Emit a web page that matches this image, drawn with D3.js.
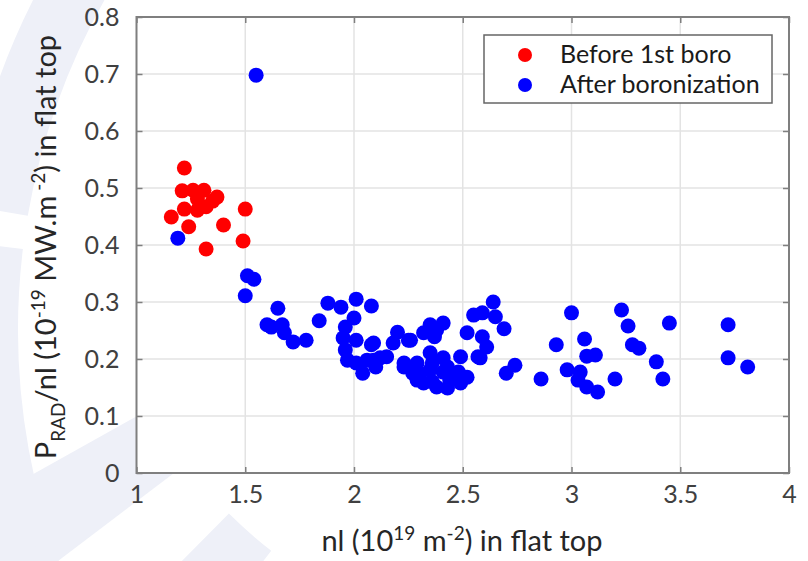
<!DOCTYPE html>
<html>
<head>
<meta charset="utf-8">
<script src="https://cdn.jsdelivr.net/npm/d3@7"></script>
<style>
  body { margin: 0; background: #fff; }
  svg { display: block; font-family: Lato, "Open Sans", sans-serif; }
</style>
</head>
<body>
<svg id="svg" width="808" height="561"></svg>
<script>
    // data: nl (1e19 m^-2) vs Prad/nl
    var beforeX = [1.16, 1.22, 1.21, 1.26, 1.31, 1.28, 1.35, 1.32, 1.37, 1.22, 1.24, 1.32, 1.40, 1.49, 1.50, 1.28];
    var beforeY = [0.449, 0.535, 0.495, 0.496, 0.496, 0.481, 0.477, 0.467, 0.484, 0.463, 0.432, 0.393, 0.435, 0.407, 0.463, 0.461];

    var afterX = [1.55, 1.19, 1.51, 1.54, 1.50, 1.65, 1.60, 1.62, 1.67, 1.68, 1.72, 1.78, 1.84, 1.88, 1.94, 2.01,
        2.08, 1.96, 2.00, 1.95, 1.96, 1.97, 2.01, 2.04, 2.09, 2.06, 2.10, 2.01, 2.08, 2.09, 2.12, 2.20,
        2.25, 2.18, 2.15, 2.23, 2.27, 2.29, 2.26, 2.23, 2.30, 2.32, 2.38, 2.44, 2.49, 2.51, 2.43, 2.36,
        2.35, 2.41, 2.32, 2.37, 2.55, 2.59, 2.64, 2.65, 2.52, 2.59, 2.61, 2.57, 2.49, 2.41, 2.35, 2.29,
        2.30, 2.36, 2.43, 2.52, 2.48, 2.41, 2.35, 2.38, 2.58, 2.69, 2.70, 2.74, 2.86, 2.93, 3.00, 3.06,
        3.07, 3.11, 2.98, 3.04, 3.03, 3.07, 3.12, 3.20, 3.23, 3.26, 3.28, 3.31, 3.39, 3.42, 3.45, 3.72,
        3.72, 3.81];
    var afterY = [0.698, 0.412, 0.346, 0.340, 0.311, 0.289, 0.260, 0.256, 0.260, 0.246, 0.230, 0.233, 0.267, 0.298, 0.291, 0.305,
        0.293, 0.256, 0.272, 0.237, 0.216, 0.198, 0.233, 0.175, 0.228, 0.198, 0.186, 0.193, 0.225, 0.198, 0.202, 0.247,
        0.233, 0.228, 0.204, 0.193, 0.175, 0.163, 0.233, 0.186, 0.175, 0.158, 0.151, 0.163, 0.158, 0.168, 0.186, 0.193,
        0.260, 0.263, 0.246, 0.239, 0.277, 0.281, 0.300, 0.274, 0.246, 0.239, 0.221, 0.204, 0.204, 0.202, 0.211, 0.193,
        0.168, 0.160, 0.149, 0.168, 0.177, 0.177, 0.181, 0.251, 0.202, 0.253, 0.175, 0.189, 0.165, 0.225, 0.281, 0.235,
        0.205, 0.207, 0.181, 0.177, 0.163, 0.151, 0.142, 0.165, 0.286, 0.258, 0.225, 0.219, 0.195, 0.165, 0.263, 0.260,
        0.202, 0.186];

    var xTicks = [1, 1.5, 2, 2.5, 3, 3.5, 4];
    var yTicks = [0, 0.1, 0.2, 0.3, 0.4, 0.5, 0.6, 0.7, 0.8];
    var seriesNames = ['Before 1st boro', 'After boronization'];
    var seriesColors = ['#ff0000', '#0000ff'];

    var svg = d3.select("#svg");

    // pale logo watermark behind the figure
    var wm = svg.append("g").attr("fill", "#eef0f8");
    var arc = d3.arc();
    [[-2.05, -1.45], [-1.40, -0.95], [-2.75, -2.2]].forEach(function (s) {
        wm.append("path")
            .attr("transform", "translate(690,330)")
            .attr("d", arc({innerRadius: 672, outerRadius: 735, startAngle: s[0], endAngle: s[1]}));
    });
    [[-2.22, -2.08], [-2.48, -2.36], [2.05, 2.3]].forEach(function (s) {
        wm.append("path")
            .attr("transform", "translate(560,180)")
            .attr("d", arc({innerRadius: 470, outerRadius: 640, startAngle: s[0], endAngle: s[1]}));
    });

    var pLeft = 136.5, pRight = 789, pTop = 17, pBottom = 473;
    var x = d3.scaleLinear().domain([1, 4]).range([pLeft, pRight]);
    var y = d3.scaleLinear().domain([0, 0.8]).range([pBottom, pTop]);

    svg.append("rect")
        .attr("x", pLeft).attr("y", pTop)
        .attr("width", pRight - pLeft).attr("height", pBottom - pTop)
        .attr("fill", "#fff");

    // grid
    var grid = svg.append("g").attr("stroke", "#e3e3e3").attr("stroke-width", 1.5);
    grid.selectAll(".gx").data(xTicks.slice(1, -1)).enter().append("line")
        .attr("x1", function (d) { return x(d); }).attr("x2", function (d) { return x(d); })
        .attr("y1", pTop).attr("y2", pBottom);
    grid.selectAll(".gy").data(yTicks.slice(1, -1)).enter().append("line")
        .attr("y1", function (d) { return y(d); }).attr("y2", function (d) { return y(d); })
        .attr("x1", pLeft).attr("x2", pRight);

    // axes with inward ticks
    var axCol = "#7f7f7f";
    function styleAxis(g) {
        g.select(".domain").remove();
        g.selectAll(".tick line").attr("stroke", axCol).attr("stroke-width", 1.5);
        g.selectAll(".tick text").attr("fill", "#404040").style("font-size", "25px")
            .style("font-family", "Lato, 'Open Sans', sans-serif");
    }
    svg.append("g").attr("transform", "translate(0," + pBottom + ")")
        .call(d3.axisBottom(x).tickValues(xTicks).tickSize(-6).tickPadding(12).tickFormat(d3.format("")))
        .call(styleAxis);
    svg.append("g").attr("transform", "translate(" + pLeft + ",0)")
        .call(d3.axisLeft(y).tickValues(yTicks).tickSize(-6).tickPadding(17).tickFormat(d3.format("")))
        .call(styleAxis);
    svg.append("g").attr("transform", "translate(0," + pTop + ")")
        .call(d3.axisTop(x).tickValues(xTicks).tickSize(-6).tickFormat(""))
        .call(styleAxis);
    svg.append("g").attr("transform", "translate(" + pRight + ",0)")
        .call(d3.axisRight(y).tickValues(yTicks).tickSize(-6).tickFormat(""))
        .call(styleAxis);

    svg.append("rect")
        .attr("x", pLeft).attr("y", pTop)
        .attr("width", pRight - pLeft).attr("height", pBottom - pTop)
        .attr("fill", "none").attr("stroke", axCol).attr("stroke-width", 2);

    // points
    var afterPts = afterX.map(function (v, i) { return [v, afterY[i]]; });
    var beforePts = beforeX.map(function (v, i) { return [v, beforeY[i]]; });
    svg.append("g").selectAll("circle").data(afterPts).enter().append("circle")
        .attr("cx", function (d) { return x(d[0]); })
        .attr("cy", function (d) { return y(d[1]); })
        .attr("r", 7.5).attr("fill", seriesColors[1]);
    svg.append("g").selectAll("circle").data(beforePts).enter().append("circle")
        .attr("cx", function (d) { return x(d[0]); })
        .attr("cy", function (d) { return y(d[1]); })
        .attr("r", 7.5).attr("fill", seriesColors[0]);

    // legend
    var lg = svg.append("g");
    lg.append("rect").attr("x", 484).attr("y", 35).attr("width", 288).attr("height", 68)
        .attr("fill", "#fff").attr("stroke", "#666").attr("stroke-width", 1.5);
    seriesNames.forEach(function (n, i) {
        lg.append("circle").attr("cx", 525).attr("cy", 55 + i * 30).attr("r", 7).attr("fill", seriesColors[i]);
        lg.append("text").attr("x", 560).attr("y", 63 + i * 30).text(n)
            .attr("fill", "#1a1a1a").style("font-size", "25px");
    });

    // axis titles
    var xt = svg.append("text").attr("x", 462).attr("y", 551).attr("text-anchor", "middle")
        .attr("fill", "#262626").style("font-size", "29px");
    xt.append("tspan").text("nl (10");
    xt.append("tspan").text("19").attr("dy", -11).style("font-size", "19px");
    xt.append("tspan").text(" m").attr("dy", 11);
    xt.append("tspan").text("-2").attr("dy", -11).style("font-size", "19px");
    xt.append("tspan").text(") in flat top").attr("dy", 11);

    var yt = svg.append("text").attr("transform", "translate(56,247) rotate(-90)")
        .attr("text-anchor", "middle").attr("fill", "#262626").style("font-size", "29px");
    yt.append("tspan").text("P");
    yt.append("tspan").text("RAD").attr("dy", 9).style("font-size", "19px");
    yt.append("tspan").text("/nl (10").attr("dy", -9);
    yt.append("tspan").text("-19").attr("dy", -11).style("font-size", "19px");
    yt.append("tspan").text(" MW.m").attr("dy", 11);
    yt.append("tspan").text(" -2").attr("dy", -11).style("font-size", "19px");
    yt.append("tspan").text(") in flat top").attr("dy", 11);
</script>
</body>
</html>
